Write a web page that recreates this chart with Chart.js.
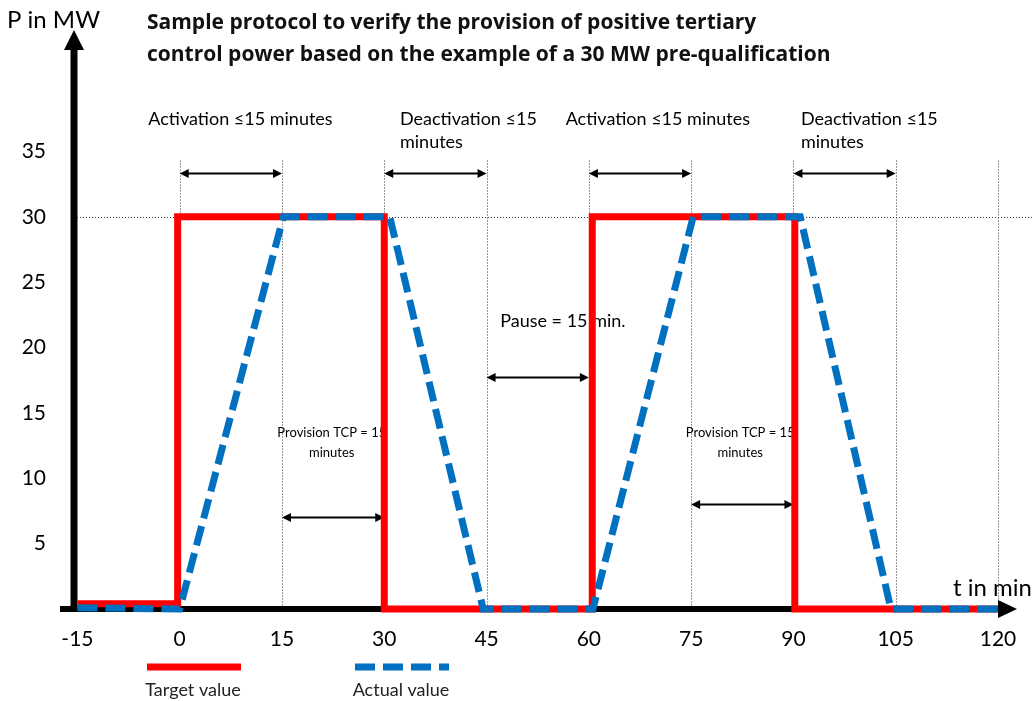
<!DOCTYPE html>
<html>
<head>
<meta charset="utf-8">
<script src="https://cdn.jsdelivr.net/npm/chart.js@4.4.1/dist/chart.umd.min.js"></script>
<style>
html, body { margin: 0; padding: 0; background: #fff; }
</style>
</head>
<body>
<canvas id="canvas1" width="1032" height="701"></canvas>
<script>
// tick labels
var xTicks = [-15, 0, 15, 30, 45, 60, 75, 90, 105, 120];
var yTicks = [5, 10, 15, 20, 25, 30, 35];

// target value (step) and actual value (ramps), t in min / P in MW
var targetX = [-15, -0.3, -0.3, 30, 30, 60.5, 60.5, 90.2, 90.2, 120];
var targetY = [0.4, 0.4, 30, 30, 0, 0, 30, 30, 0, 0];
var actualX = [-15, 0, 15.2, 30.8, 44.5, 60.6, 75.3, 91, 104.3, 120.5];
var actualY = [0.1, 0, 30, 30, 0, 0, 30, 30, 0, 0];

var FONT = "Lato, 'Open Sans', sans-serif";

function toPoints(xs, ys) {
    return xs.map(function (x, i) { return { x: x, y: ys[i] }; });
}

function arrowHead(ctx, x, y, dir) {
    ctx.beginPath();
    ctx.moveTo(x, y);
    ctx.lineTo(x - dir * 9, y - 4.5);
    ctx.lineTo(x - dir * 9, y + 4.5);
    ctx.closePath();
    ctx.fill();
}

function dblArrow(ctx, x1, x2, y) {
    ctx.beginPath();
    ctx.moveTo(x1 + 4, y);
    ctx.lineTo(x2 - 4, y);
    ctx.stroke();
    arrowHead(ctx, x1, y, -1);
    arrowHead(ctx, x2, y, 1);
}

var protocolPlugin = {
    id: 'protocol',
    beforeDatasetsDraw: function (chart) {
        var ctx = chart.ctx;
        var xs = chart.scales.x, ys = chart.scales.y;
        var area = chart.chartArea;
        var X = function (v) { return xs.getPixelForValue(v); };
        var Y = function (v) { return ys.getPixelForValue(v); };
        ctx.save();

        // dotted helper lines
        ctx.strokeStyle = '#333';
        ctx.lineWidth = 1;
        ctx.setLineDash([1, 2]);
        xTicks.forEach(function (t) {
            if (t <= -15) return;
            ctx.beginPath();
            ctx.moveTo(Math.round(X(t)) + 0.5, Y(34.3));
            ctx.lineTo(Math.round(X(t)) + 0.5, area.bottom);
            ctx.stroke();
        });
        ctx.beginPath();
        ctx.moveTo(area.left, Math.round(Y(30)) + 0.5);
        ctx.lineTo(chart.width, Math.round(Y(30)) + 0.5);
        ctx.stroke();
        ctx.setLineDash([]);

        // axes with arrows
        ctx.fillStyle = '#000';
        ctx.strokeStyle = '#000';
        ctx.lineWidth = 7;
        ctx.beginPath();
        ctx.moveTo(area.left, area.bottom + 3);
        ctx.lineTo(area.left, 48);
        ctx.stroke();
        ctx.beginPath();
        ctx.moveTo(area.left, 30);
        ctx.lineTo(area.left - 10, 50);
        ctx.lineTo(area.left + 10, 50);
        ctx.closePath();
        ctx.fill();
        ctx.lineWidth = 6;
        ctx.beginPath();
        ctx.moveTo(60, area.bottom);
        ctx.lineTo(1000, area.bottom);
        ctx.stroke();
        ctx.beginPath();
        ctx.moveTo(1017, area.bottom);
        ctx.lineTo(998, area.bottom - 9);
        ctx.lineTo(998, area.bottom + 9);
        ctx.closePath();
        ctx.fill();

        // double arrows for the phases
        ctx.lineWidth = 2;
        [[0, 15, 33.3], [30, 45, 33.3], [60, 75, 33.3], [90, 105, 33.3],
         [45, 60, 17.7], [15, 30, 7.0], [75, 90, 8.0]].forEach(function (a) {
            dblArrow(ctx, X(a[0]), X(a[1]), Y(a[2]));
        });

        // annotations
        ctx.fillStyle = '#000';
        ctx.textBaseline = 'middle';
        ctx.textAlign = 'left';
        ctx.font = '18px ' + FONT;
        ctx.fillText('Activation \u226415 minutes', X(-4.6), Y(37.5));
        ctx.fillText('Deactivation \u226415', X(32.3), Y(37.5));
        ctx.fillText('minutes', X(32.3), Y(35.7));
        ctx.fillText('Activation \u226415 minutes', X(56.6), Y(37.5));
        ctx.fillText('Deactivation \u226415', X(91.1), Y(37.5));
        ctx.fillText('minutes', X(91.1), Y(35.7));
        ctx.fillText('Pause = 15 min.', X(47), Y(22.0));

        ctx.font = '13px ' + FONT;
        ctx.textAlign = 'center';
        ctx.fillText('Provision TCP = 15', X(22.3), Y(13.46));
        ctx.fillText('minutes', X(22.3), Y(11.93));
        ctx.fillText('Provision TCP = 15', X(82.2), Y(13.46));
        ctx.fillText('minutes', X(82.2), Y(11.93));

        // axis titles
        ctx.textAlign = 'left';
        ctx.font = '24px ' + FONT;
        ctx.fillText('P in MW', 7, 20);
        ctx.fillText('t in min', 953, 588);

        // chart title
        ctx.font = "bold 21px 'Open Sans', Lato, sans-serif";
        ctx.fillStyle = '#111';
        ctx.fillText('Sample protocol to verify the provision of positive tertiary', 147, 23);
        ctx.fillText('control power based on the example of a 30 MW pre-qualification', 147, 55);
        ctx.restore();
    },
    afterDraw: function (chart) {
        // legend below the axis
        var ctx = chart.ctx;
        ctx.save();
        ctx.lineWidth = 7;
        chart.data.datasets.forEach(function (ds, i) {
            var x0 = i === 0 ? 147 : 355;
            ctx.strokeStyle = ds.borderColor;
            ctx.setLineDash(ds.borderDash || []);
            ctx.beginPath();
            ctx.moveTo(x0, 667);
            ctx.lineTo(x0 + 94, 667);
            ctx.stroke();
            ctx.setLineDash([]);
            ctx.fillStyle = '#222';
            ctx.font = '18px ' + FONT;
            ctx.textAlign = 'center';
            ctx.textBaseline = 'middle';
            ctx.fillText(ds.label, x0 + 46, 690);
        });
        ctx.restore();
    }
};

new Chart(document.getElementById('canvas1'), {
    type: 'line',
    data: {
        datasets: [{
            label: 'Target value',
            data: toPoints(targetX, targetY),
            borderColor: '#ff0000',
            borderWidth: 7,
            pointRadius: 0,
            tension: 0,
            clip: false,
            order: 2
        }, {
            label: 'Actual value',
            data: toPoints(actualX, actualY),
            borderColor: '#0070c0',
            borderWidth: 7,
            borderDash: [20, 8],
            pointRadius: 0,
            tension: 0,
            clip: false,
            order: 1
        }]
    },
    options: {
        responsive: false,
        animation: false,
        layout: { padding: { left: 14, right: 34, top: 86, bottom: 0 } },
        plugins: {
            legend: { display: false },
            tooltip: { enabled: false },
            title: { display: false }
        },
        scales: {
            x: {
                type: 'linear',
                min: -15.5,
                max: 120,
                grid: { display: false },
                border: { display: false },
                afterBuildTicks: function (scale) {
                    scale.ticks = xTicks.map(function (v) { return { value: v }; });
                },
                afterFit: function (scale) { scale.height = 92; },
                ticks: {
                    color: '#000',
                    font: { family: FONT, size: 21 },
                    padding: 10,
                    maxRotation: 0,
                    autoSkip: false
                }
            },
            y: {
                min: 0,
                max: 40,
                grid: { display: false },
                border: { display: false },
                afterBuildTicks: function (scale) {
                    scale.ticks = yTicks.map(function (v) { return { value: v }; });
                },
                afterFit: function (scale) { scale.width = 60; },
                ticks: {
                    color: '#000',
                    font: { family: FONT, size: 21 },
                    padding: 20
                }
            }
        }
    },
    plugins: [protocolPlugin]
});
</script>
</body>
</html>
